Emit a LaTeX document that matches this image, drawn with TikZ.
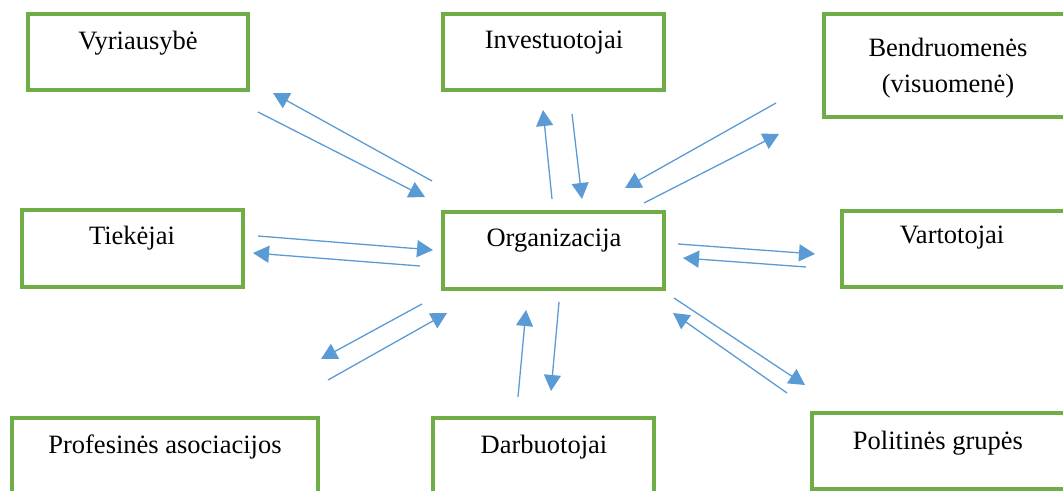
\documentclass[tikz,border=0pt]{standalone}
\usepackage{fontspec}
\setmainfont{Liberation Serif}
\usetikzlibrary{arrows.meta}
\definecolor{boxgreen}{HTML}{70AD47}
\definecolor{flowblue}{HTML}{5B9BD5}
\begin{document}
\begin{tikzpicture}[x=0.5pt,y=-0.5pt,
  stakebox/.style={draw=boxgreen, line width=1.6pt, fill=white, inner sep=0pt, outer sep=0pt, anchor=north west},
  lbl/.style={anchor=base, inner sep=0pt, font=\fontsize{13.25}{16}\selectfont},
  flow/.style={draw=flowblue, line width=0.65pt, -{Triangle[length=8pt,width=8.5pt]}}]
\useasboundingbox (0,0) rectangle (1063,491);
\clip (0,0) rectangle (1063,491);

% stakeholder boxes
\node[stakebox, minimum width=110pt,   minimum height=38pt]   (vyr) at (28,14)   {};
\node[stakebox, minimum width=110.5pt, minimum height=38pt]   (inv) at (443,14)  {};
\node[stakebox, minimum width=125.5pt, minimum height=51.5pt] (ben) at (824,14)  {};
\node[stakebox, minimum width=110.5pt, minimum height=38.5pt] (tie) at (22,210)  {};
\node[stakebox, minimum width=110.5pt, minimum height=38.5pt] (org) at (443,212) {};
\node[stakebox, minimum width=116.5pt, minimum height=38pt]   (var) at (842,211) {};
\node[stakebox, minimum width=153pt,   minimum height=41pt]   (pro) at (12,418)  {};
\node[stakebox, minimum width=110.5pt, minimum height=41pt]   (dar) at (433,418) {};
\node[stakebox, minimum width=131.5pt, minimum height=38pt]   (pol) at (812,413) {};

% box captions
\node[lbl] (vyrT)  at (138,50)  {Vyriausybė};
\node[lbl] (invT)  at (554,49)  {Investuotojai};
\node[lbl] (benT1) at (948,57)  {Bendruomenės};
\node[lbl] (benT2) at (948,93)  {(visuomenė)};
\node[lbl] (tieT)  at (132,245) {Tiekėjai};
\node[lbl] (orgT)  at (554,247) {Organizacija};
\node[lbl] (varT)  at (952,244) {Vartotojai};
\node[lbl] (proT)  at (165,453) {Profesinės asociacijos};
\node[lbl] (darT)  at (544,453) {Darbuotojai};
\node[lbl] (polT)  at (938,449) {Politinės grupės};

% arrow end points
\coordinate (vyrOa) at (432,181); \coordinate (vyrOb) at (273,93);
\coordinate (vyrIa) at (258,112); \coordinate (vyrIb) at (425,197);
\coordinate (invOa) at (552,199); \coordinate (invOb) at (543,110);
\coordinate (invIa) at (572,114); \coordinate (invIb) at (582,199);
\coordinate (benIa) at (776,103); \coordinate (benIb) at (625,188);
\coordinate (benOa) at (644,203); \coordinate (benOb) at (779,134);
\coordinate (tieIa) at (258,236); \coordinate (tieIb) at (433,250);
\coordinate (tieOa) at (420,266); \coordinate (tieOb) at (253,253);
\coordinate (varOa) at (678,244); \coordinate (varOb) at (815,254);
\coordinate (varIa) at (806,267); \coordinate (varIb) at (683,258);
\coordinate (proOa) at (422,304); \coordinate (proOb) at (321,359);
\coordinate (proIa) at (328,380); \coordinate (proIb) at (447,313);
\coordinate (darIa) at (518,397); \coordinate (darIb) at (526,310);
\coordinate (darOa) at (559,302); \coordinate (darOb) at (551,391);
\coordinate (polOa) at (674,298); \coordinate (polOb) at (805,385);
\coordinate (polIa) at (787,393); \coordinate (polIb) at (673,313);

% two-way flows between the organisation and each stakeholder
\draw[flow] (vyrOa) -- (vyrOb);
\draw[flow] (vyrIa) -- (vyrIb);
\draw[flow] (invOa) -- (invOb);
\draw[flow] (invIa) -- (invIb);
\draw[flow] (benIa) -- (benIb);
\draw[flow] (benOa) -- (benOb);
\draw[flow] (tieIa) -- (tieIb);
\draw[flow] (tieOa) -- (tieOb);
\draw[flow] (varOa) -- (varOb);
\draw[flow] (varIa) -- (varIb);
\draw[flow] (proOa) -- (proOb);
\draw[flow] (proIa) -- (proIb);
\draw[flow] (darIa) -- (darIb);
\draw[flow] (darOa) -- (darOb);
\draw[flow] (polOa) -- (polOb);
\draw[flow] (polIa) -- (polIb);
\end{tikzpicture}
\end{document}
